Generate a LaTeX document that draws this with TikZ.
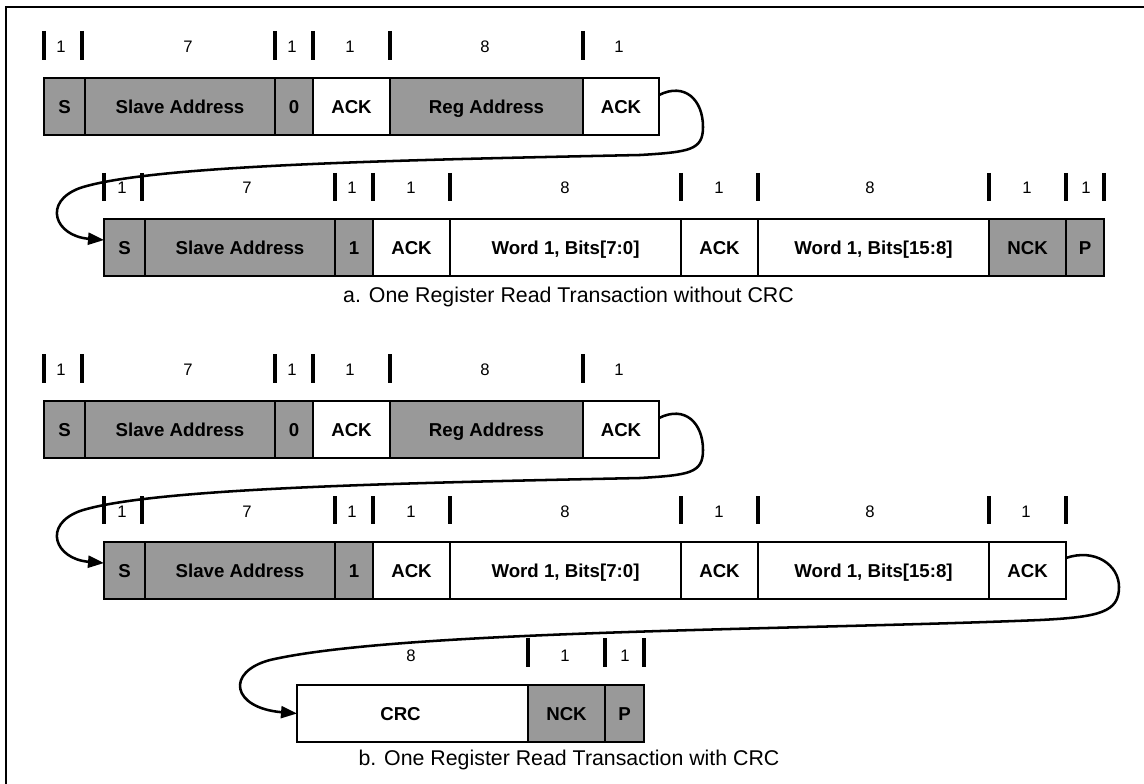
\documentclass[tikz,border=0pt]{standalone}
\usepackage{fontspec}
\setmainfont{Liberation Sans}
\usetikzlibrary{arrows.meta}
\definecolor{boxgray}{RGB}{153,153,153}
\newcommand\pbox[6]{\node[#5, minimum width={(#3-#2)*0.75pt}] (#1) at ({(#2+#3)/2},#4) {#6};}
\begin{document}
\begin{tikzpicture}[x=0.75pt,y=-0.75pt,
  gbox/.style={draw=black, line width=0.8pt, fill=boxgray, inner sep=0pt, outer sep=0pt,
    minimum height=57*0.75pt, text height=10pt, text depth=0pt,
    font=\fontsize{14}{16}\selectfont\bfseries},
  wbox/.style={gbox, fill=white},
  tickline/.style={line width=2.5pt},
  num/.style={font=\fontsize{12.5}{14}\selectfont, inner sep=0pt},
  captxt/.style={font=\fontsize{16}{19}\selectfont, inner sep=0pt},
  link/.style={line width=1.9pt, -{Triangle[length=12pt,width=9pt]}}
]
\useasboundingbox (0,0) rectangle (1144,784);
\draw[line width=2pt] (6,784) -- (6,7) -- (1144,7);

% ---------- a, row 1
\pbox{a1}{44}{85}{106.5}{gbox}{S}
\pbox{a2}{85}{275}{106.5}{gbox}{Slave Address}
\pbox{a3}{275}{313}{106.5}{gbox}{0}
\pbox{a4}{313}{390}{106.5}{wbox}{ACK}
\pbox{a5}{390}{583}{106.5}{gbox}{Reg Address}
\pbox{a6}{583}{659}{106.5}{wbox}{ACK}
\foreach \x in {44,82,275,313,390,583} \draw[tickline] (\x,31) -- (\x,60);
\foreach \x/\t [count=\i] in {61/1,188/7,292/1,350/1,485/8,619/1}
  \node[num] (na\i) at (\x,47) {\t};

% ---------- a, row 2
\pbox{b1}{104}{145}{247.5}{gbox}{S}
\pbox{b2}{145}{335}{247.5}{gbox}{Slave Address}
\pbox{b3}{335}{373}{247.5}{gbox}{1}
\pbox{b4}{373}{450}{247.5}{wbox}{ACK}
\pbox{b5}{450}{681}{247.5}{wbox}{Word 1, Bits[7:0]}
\pbox{b6}{681}{758}{247.5}{wbox}{ACK}
\pbox{b7}{758}{989}{247.5}{wbox}{Word 1, Bits[15:8]}
\pbox{b8}{989}{1066}{247.5}{gbox}{NCK}
\pbox{b9}{1066}{1104}{247.5}{gbox}{P}
\foreach \x in {104,142,335,373,450,681,758,989,1066,1104} \draw[tickline] (\x,173) -- (\x,201);
\foreach \x/\t [count=\i] in {122/1,247/7,352/1,411/1,565/8,719/1,870/8,1027/1,1086/1}
  \node[num] (nb\i) at (\x,188) {\t};

\node[captxt] (capa) at (568.5,297) {a. One Register Read Transaction without CRC};

\draw[link] ([yshift=8.6pt]a6.east) .. controls (685,82) and (703,100) .. (703,127)
  .. controls (703,150) and (690,152) .. (640,155)
  .. controls (400,160) and (150,165) .. (80,188)
  .. controls (42,202) and (55,236) .. ([yshift=5.6pt]b1.west);

% ---------- b, row 1
\pbox{c1}{44}{85}{429.5}{gbox}{S}
\pbox{c2}{85}{275}{429.5}{gbox}{Slave Address}
\pbox{c3}{275}{313}{429.5}{gbox}{0}
\pbox{c4}{313}{390}{429.5}{wbox}{ACK}
\pbox{c5}{390}{583}{429.5}{gbox}{Reg Address}
\pbox{c6}{583}{659}{429.5}{wbox}{ACK}
\foreach \x in {44,82,275,313,390,583} \draw[tickline] (\x,354) -- (\x,383);
\foreach \x/\t [count=\i] in {61/1,188/7,292/1,350/1,485/8,619/1}
  \node[num] (nc\i) at (\x,370) {\t};

% ---------- b, row 2
\pbox{d1}{104}{145}{570.5}{gbox}{S}
\pbox{d2}{145}{335}{570.5}{gbox}{Slave Address}
\pbox{d3}{335}{373}{570.5}{gbox}{1}
\pbox{d4}{373}{450}{570.5}{wbox}{ACK}
\pbox{d5}{450}{681}{570.5}{wbox}{Word 1, Bits[7:0]}
\pbox{d6}{681}{758}{570.5}{wbox}{ACK}
\pbox{d7}{758}{989}{570.5}{wbox}{Word 1, Bits[15:8]}
\pbox{d8}{989}{1066}{570.5}{wbox}{ACK}
\foreach \x in {104,142,335,373,450,681,758,989,1066} \draw[tickline] (\x,496) -- (\x,524);
\foreach \x/\t [count=\i] in {122/1,247/7,352/1,411/1,565/8,719/1,870/8,1026/1}
  \node[num] (nd\i) at (\x,512) {\t};

\draw[link] ([yshift=8.6pt]c6.east) .. controls (685,405) and (703,423) .. (703,450)
  .. controls (703,473) and (690,475) .. (640,478)
  .. controls (400,483) and (150,488) .. (80,511)
  .. controls (42,525) and (55,559) .. ([yshift=5.6pt]d1.west);

% ---------- b, row 3
\pbox{e1}{297}{528}{713.5}{wbox}{CRC\hspace*{18pt}}
\pbox{e2}{528}{605}{713.5}{gbox}{NCK}
\pbox{e3}{605}{644}{713.5}{gbox}{P}
\foreach \x in {528,605,644} \draw[tickline] (\x,638) -- (\x,667);
\foreach \x/\t [count=\i] in {411/8,565/1,625/1}
  \node[num] (ne\i) at (\x,656) {\t};

\draw[link] ([yshift=9.4pt]d8.east) .. controls (1095,548) and (1119,565) .. (1119,587)
  .. controls (1119,612) and (1100,617) .. (1040,620)
  .. controls (800,630) and (400,630) .. (270,660)
  .. controls (225,672) and (232,708) .. (e1.west);

\node[captxt] (capb) at (569,760) {b. One Register Read Transaction with CRC};
\end{tikzpicture}
\end{document}
